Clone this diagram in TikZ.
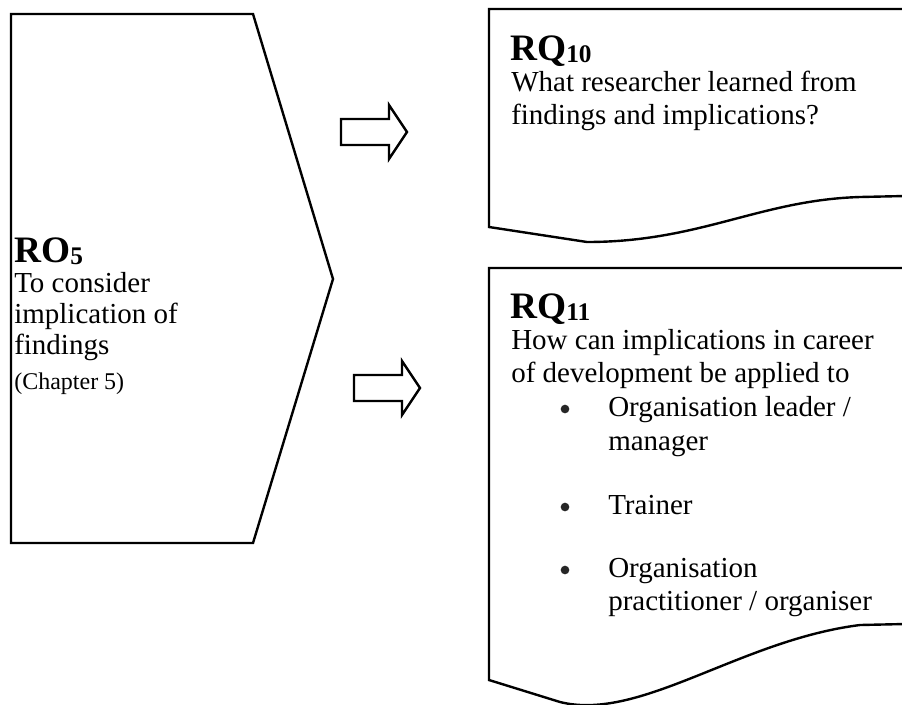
\documentclass[tikz,border=0pt]{standalone}
\usepackage{fontspec}
\setmainfont{Liberation Serif}
\newcommand{\rqsub}[1]{\raisebox{-1.5pt}{\fontsize{19}{19}\selectfont #1}}
\tikzset{frame/.style = {draw, line width=1.8pt, line join=miter},
         head/.style = {anchor=base west, inner sep=0pt, font=\fontsize{28}{30}\selectfont\bfseries},
         txt/.style = {anchor=base west, inner sep=0pt, font=\fontsize{21.75}{24}\selectfont},
         note/.style = {anchor=base west, inner sep=0pt, font=\fontsize{18}{20}\selectfont},
         dot/.style = {circle, fill=black!85, inner sep=0pt, minimum size=6.5pt}}

\begin{document}
\begin{tikzpicture}[x=0.75pt,y=-0.75pt]
    \useasboundingbox(0,0)rectangle(902,704);
    % left chevron
    \draw[frame](11,14)--(253,14)--(333,279)--(253,543)--(11,543)--cycle;
    % block arrows
    \foreach \x/\y in {341/132, 354/388}
        \draw[frame](\x,\y-13)--(\x+48,\y-13)--(\x+48,\y-27)--(\x+66,\y)--(\x+48,\y+27)--(\x+48,\y+13)--(\x,\y+13)--cycle;
    % top box
    \draw[frame](905,9)--(489,9)--(489,227)--(587,242)..controls(700,242)and(760,200)..(860,197)--(905,196);
    % bottom box
    \draw[frame](905,268)--(489,268)--(489,680)--(560,702)..controls(640,722)and(740,640)..(860,625)--(905,624);
    % left text
    \node[head](ro)at(14,262){RO\rqsub{5}};
    \node[txt](ro1)at(14,292){To consider};
    \node[txt](ro2)at(14,323){implication of};
    \node[txt](ro3)at(14,354){findings};
    \node[note](ch)at(14,389){(Chapter 5)};
    % top right text
    \node[head](rq10)at(510,60){RQ\rqsub{10}};
    \node[txt](q10a)at(511,91){What researcher learned from};
    \node[txt](q10b)at(511,124){findings and implications?};
    % bottom right text
    \node[head](rq11)at(510,318){RQ\rqsub{11}};
    \node[txt](q11a)at(511,349){How can implications in career};
    \node[txt](q11b)at(511,382){of development be applied to};
    \foreach \n/\y in {b1/409, b2/507, b3/570}
        \node[dot](\n)at(565,\y){};
    \node[txt](i1)at(608,416){Organisation leader /};
    \node[txt](i1b)at(608,450){manager};
    \node[txt](i2)at(608,514){Trainer};
    \node[txt](i3)at(608,577){Organisation};
    \node[txt](i3b)at(608,610){practitioner / organiser};
\end{tikzpicture}
\end{document}
